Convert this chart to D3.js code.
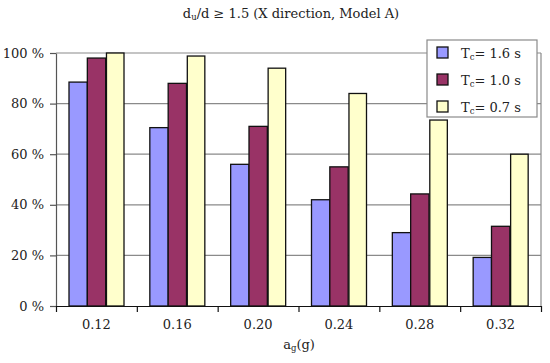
<!DOCTYPE html>
<html>
<head>
<meta charset="utf-8">
<script src="https://cdn.jsdelivr.net/npm/d3@7"></script>
<style>
  body { margin: 0; background: #fff; }
  text { font-family: "DejaVu Serif", serif; fill: #222; }
</style>
</head>
<body>
<svg width="550" height="363"></svg>
<script>
const categories = ['0.12', '0.16', '0.20', '0.24', '0.28', '0.32']
const seriesNames = ['1.6', '1.0', '0.7']
const tc16 = [88.5, 70.5, 56, 42, 29, 19.2]
const tc10 = [98, 88, 71, 55, 44.3, 31.5]
const tc07 = [100, 98.8, 94, 84, 73.5, 60]
const yTicks = [0, 20, 40, 60, 80, 100]

const colors = ['#9999ff', '#993366', '#ffffcc']
const margin = {top: 53, bottom: 57, left: 56, right: 9}
const width = 550, height = 363
const fontFam = '"DejaVu Serif", serif'

const svg = d3.select('svg')

const x = d3.scaleBand().domain(categories).range([margin.left, width - margin.right]).padding(0)
const xInner = d3.scaleBand().domain(seriesNames).range([13, 68]).padding(0)
const xEdge = d3.scaleLinear().domain([0, categories.length]).range([margin.left, width - margin.right])
const y = d3.scaleLinear().domain([0, 100]).range([height - margin.bottom, margin.top])

// gridlines
svg.append('g').selectAll('line')
  .data(yTicks.filter(d => d > 0))
  .join('line')
  .attr('x1', margin.left).attr('x2', width - margin.right)
  .attr('y1', d => y(d)).attr('y2', d => y(d))
  .attr('stroke', '#8a8a8a').attr('stroke-width', 1.2)

// right border
svg.append('line')
  .attr('x1', width - margin.right).attr('x2', width - margin.right)
  .attr('y1', y(100)).attr('y2', y(0))
  .attr('stroke', '#8a8a8a').attr('stroke-width', 1.2)

const allSeries = [tc16, tc10, tc07]

svg.append('g').selectAll('g')
  .data(allSeries)
  .join('g')
  .attr('fill', (d, i) => colors[i])
  .each(function(vals, si) {
    d3.select(this).selectAll('rect')
      .data(vals)
      .join('rect')
      .attr('x', (d, i) => x(categories[i]) + xInner(seriesNames[si]) + (si === 2 ? 0.8 : 0))
      .attr('y', d => y(d))
      .attr('width', xInner.bandwidth() - (si === 2 ? 0.8 : 0))
      .attr('height', d => y(0) - y(d))
      .attr('stroke', '#111')
      .attr('stroke-width', 1.3)
  })

// y axis
svg.append('g')
  .attr('transform', `translate(${margin.left},0)`)
  .call(d3.axisLeft(y).tickValues(yTicks).tickSize(6).tickSizeOuter(0).tickPadding(6).tickFormat(d => d + ' %'))
  .call(g => g.selectAll('path,line').attr('stroke', '#555').attr('stroke-width', 1.2))
  .call(g => g.selectAll('text').attr('font-size', '13px').attr('font-family', fontFam).attr('fill', '#222'))

// x axis boundary ticks
svg.append('g')
  .attr('transform', `translate(0,${y(0)})`)
  .call(d3.axisBottom(xEdge).ticks(6).tickSize(6).tickSizeOuter(0).tickFormat(''))
  .call(g => g.selectAll('path,line').attr('stroke', '#111').attr('stroke-width', 1.2))

// x labels
svg.append('g')
  .attr('transform', `translate(0,${y(0)})`)
  .call(d3.axisBottom(x).tickSize(0).tickPadding(14))
  .call(g => g.select('.domain').remove())
  .call(g => g.selectAll('text').attr('font-size', '13px').attr('font-family', fontFam).attr('fill', '#222'))

// title
const title = svg.append('text')
  .attr('x', 291).attr('y', 18)
  .attr('text-anchor', 'middle').attr('font-size', '13px')
title.append('tspan').text('d')
title.append('tspan').text('u').attr('font-size', '8.5px').attr('dy', 2)
title.append('tspan').text('/d \u2265 1.5 (X direction, Model A)').attr('dy', -2)

// x axis title
const xt = svg.append('text')
  .attr('x', 299).attr('y', 349)
  .attr('text-anchor', 'middle').attr('font-size', '13px')
xt.append('tspan').text('a')
xt.append('tspan').text('g').attr('font-size', '8.5px').attr('dy', 2)
xt.append('tspan').text('(g)').attr('dy', -2)

// legend
const lg = svg.append('g').attr('transform', 'translate(427,40)')
lg.append('rect').attr('width', 110).attr('height', 77)
  .attr('fill', '#fff').attr('stroke', '#8a8a8a').attr('stroke-width', 1.2)
const items = lg.selectAll('g.item')
  .data(seriesNames)
  .join('g')
  .attr('class', 'item')
  .attr('transform', (d, i) => `translate(10,${13 + i * 27})`)
items.append('rect')
  .attr('x', 0).attr('y', -6).attr('width', 11).attr('height', 11)
  .attr('fill', (d, i) => colors[i]).attr('stroke', '#111').attr('stroke-width', 1.3)
const lt = items.append('text').attr('x', 24).attr('y', 5).attr('font-size', '13px')
lt.append('tspan').text('T')
lt.append('tspan').text('c').attr('font-size', '8.5px').attr('dy', 2)
lt.append('tspan').text(d => '= ' + d + ' s').attr('dy', -2)
</script>
</body>
</html>
